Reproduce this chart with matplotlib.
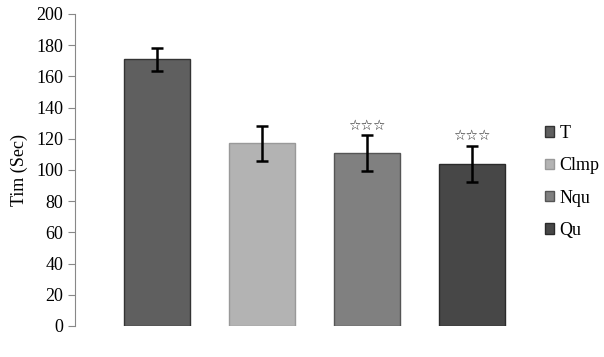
import matplotlib.pyplot as plt
from matplotlib.patches import Patch

groups = ["T", "Clmp", "Nqu", "Qu"]
means = [171, 117, 111, 104]
errors = [7.5, 11.5, 11.5, 11.5]
marks = ["", "", "☆☆☆", "☆☆☆"]
colors = ["#5f5f5f", "#b3b3b3", "#808080", "#474747"]
edges = ["#333333", "#999999", "#555555", "#2a2a2a"]

plt.rcParams['font.family'] = ['Liberation Serif', 'DejaVu Sans']

fig = plt.figure(figsize=(6.04, 3.57), dpi=100)
ax = fig.add_axes([75 / 604, 31 / 357, 435 / 604, 312 / 357])

x = range(len(groups))
ax.bar(x, means, width=0.63, color=colors, edgecolor=edges, linewidth=1.0,
       yerr=errors, capsize=4.5, error_kw=dict(ecolor="black", elinewidth=1.8, capthick=1.8))

for i, m in enumerate(marks):
    if m:
        ax.text(i, means[i] + errors[i] + 1.5, m, ha="center", va="bottom",
                fontsize=10, color="#222222", family=['DejaVu Sans'])

ax.set_xlim(-0.781, 3.362)
ax.set_ylim(0, 200)
ax.set_yticks(range(0, 201, 20))
ax.set_xticks([])
ax.set_ylabel("Tim (Sec)", fontsize=13, labelpad=6)
ax.tick_params(axis="y", labelsize=13, direction="out", length=5, color="#888888")
for s in ["top", "right", "bottom"]:
    ax.spines[s].set_visible(False)
ax.spines["left"].set_color("#888888")

handles = [Patch(facecolor=c, edgecolor=e) for c, e in zip(colors, edges)]
fig.legend(handles, groups, loc="center left", bbox_to_anchor=(529 / 604, 1 - 182 / 357),
           frameon=False, fontsize=13, handlelength=0.5, handleheight=0.5,
           handletextpad=0.3, labelspacing=0.85)

fig.savefig("out.png", dpi=100)
